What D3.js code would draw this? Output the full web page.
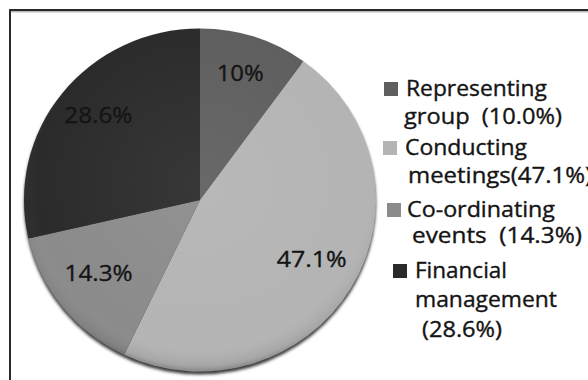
<!DOCTYPE html>
<html>
<head>
<meta charset="utf-8">
<script src="https://cdn.jsdelivr.net/npm/d3@7"></script>
<style>
  html, body { margin: 0; padding: 0; background: #fff; }
  svg { display: block; }
  text { font-family: "Open Sans", Lato, sans-serif; fill: #141414; stroke: #141414; stroke-width: 0.35px; }
</style>
</head>
<body>
<svg id="chart" width="588" height="380"></svg>
<script>
// Share of committee tasks
const categories = ["Representing group", "Conducting meetings", "Co-ordinating events", "Financial management"];
const values = [10.0, 47.1, 14.3, 28.6];
const sliceLabels = ["10%", "47.1%", "14.3%", "28.6%"];
const legendLines = [
  ["Representing", "group  (10.0%)"],
  ["Conducting", "meetings(47.1%)"],
  ["Co-ordinating", "events  (14.3%)"],
  ["Financial", "management", "(28.6%)"]
];
const colors = ["#5f5f5f", "#b4b4b4", "#8b8b8b", "#2b2b2b"];

const svg = d3.select("#chart");
const W = 588, H = 380;

// Frame (only the top and left edges fall inside the view)
svg.append("rect")
  .attr("x", 10).attr("y", 10)
  .attr("width", W + 20).attr("height", H + 20)
  .attr("fill", "none").attr("stroke", "#2a2a2a").attr("stroke-width", 2);
svg.append("line")
  .attr("x1", 11).attr("x2", W).attr("y1", 11.8).attr("y2", 11.8)
  .attr("stroke", "#9a9a9a").attr("stroke-width", 1);

const defs = svg.append("defs");
defs.append("filter").attr("id", "soft")
  .attr("x", "-10%").attr("y", "-10%").attr("width", "120%").attr("height", "120%")
  .append("feGaussianBlur").attr("stdDeviation", 1.6);
const shade = defs.append("radialGradient").attr("id", "shade")
  .attr("cx", "50%").attr("cy", "45%").attr("r", "55%");
shade.append("stop").attr("offset", "0%").attr("stop-color", "#fff").attr("stop-opacity", 0.06);
shade.append("stop").attr("offset", "85%").attr("stop-color", "#fff").attr("stop-opacity", 0);
shade.append("stop").attr("offset", "97%").attr("stop-color", "#000").attr("stop-opacity", 0.08);
shade.append("stop").attr("offset", "100%").attr("stop-color", "#000").attr("stop-opacity", 0.25);

const cx = 200, cy = 200, R = 176, yScale = 0.975;

const pie = d3.pie().sort(null).value(d => d);
const arcs = pie(values);
const arc = d3.arc().innerRadius(0).outerRadius(R);
const labelArc = d3.arc().innerRadius(130).outerRadius(130);

const g = svg.append("g").attr("transform", `translate(${cx},${cy})`);
const pg = g.append("g").attr("transform", `scale(1,${yScale})`);

// soft shadow under the disc
pg.append("circle")
  .attr("cx", 0).attr("cy", 3).attr("r", R)
  .attr("fill", "#3a3a3a")
  .attr("filter", "url(#soft)");

pg.selectAll("path.slice")
  .data(arcs)
  .join("path")
  .attr("class", "slice")
  .attr("d", arc)
  .attr("fill", (d, i) => colors[i]);

pg.append("circle").attr("r", R).attr("fill", "url(#shade)");

// value labels on the slices
const labelWidths = [47, 70, 68, 68];
g.selectAll("text.val")
  .data(arcs)
  .join("text")
  .attr("class", "val")
  .attr("x", d => labelArc.centroid(d)[0])
  .attr("y", d => labelArc.centroid(d)[1] * yScale - 6)
  .attr("dy", "0.36em")
  .attr("text-anchor", "middle")
  .attr("font-size", 22)
  .attr("textLength", (d, i) => labelWidths[i])
  .attr("lengthAdjust", "spacingAndGlyphs")
  .text((d, i) => sliceLabels[i]);

// Legend
const entryY = [96, 155, 217, 278];
const lineStep = 28;
const squareX = [384, 383, 387, 393];
const lineX = [[406, 404], [405, 408], [407, 412], [415, 415, 422]];
const lineW = [[141, 158], [122, 184], [148, 170], [92, 142, 80]];
const lineYAdj = [[0, 0], [0, 0], [0, -2], [0, 1, 3]];

const leg = svg.append("g");
categories.forEach((c, i) => {
  leg.append("rect")
    .attr("x", squareX[i]).attr("y", entryY[i] - 14)
    .attr("width", 14).attr("height", 14)
    .attr("fill", colors[i]);
  legendLines[i].forEach((t, j) => {
    leg.append("text")
      .attr("x", lineX[i][j])
      .attr("y", entryY[i] + j * lineStep + lineYAdj[i][j])
      .attr("font-size", 21)
      .attr("textLength", lineW[i][j])
      .attr("lengthAdjust", "spacingAndGlyphs")
      .style("white-space", "pre")
      .text(t);
  });
});
</script>
</body>
</html>
